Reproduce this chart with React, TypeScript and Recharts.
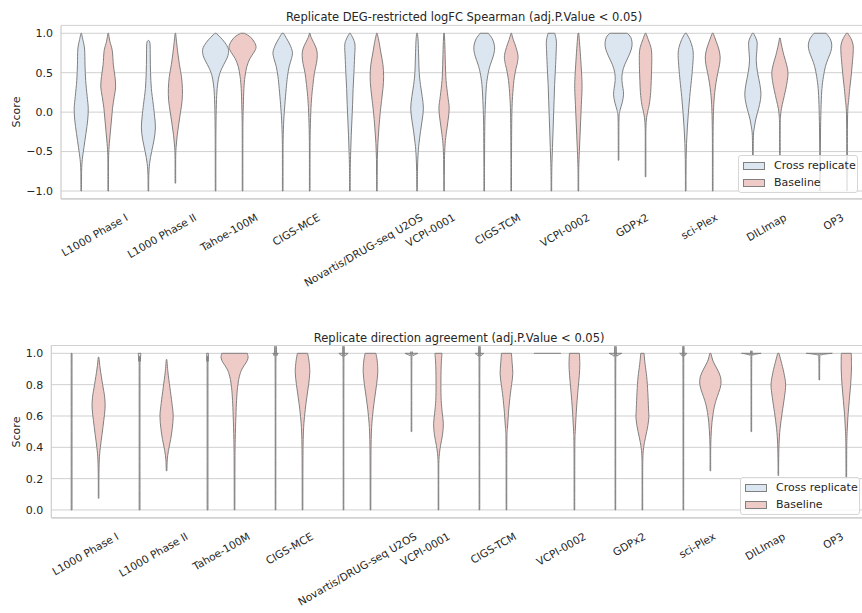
import React, { useLayoutEffect, useRef, useState } from 'react';
import { ComposedChart, Bar, XAxis, YAxis, CartesianGrid } from 'recharts';

type Profile = [number, number][];

const datasets = [
  'L1000 Phase I', 'L1000 Phase II', 'Tahoe-100M', 'CIGS-MCE', 'Novartis/DRUG-seq U2OS', 'VCPI-0001',
  'CIGS-TCM', 'VCPI-0002', 'GDPx2', 'sci-Plex', 'DILImap', 'OP3',
];

// [score, relative violin width] profiles
const spearmanCross: Profile[] = [
  [[1,0.02],[0.92,0.12],[0.8,0.25],[0.6,0.28],[0.4,0.33],[0.2,0.44],[0.05,0.52],[-0.1,0.48],[-0.27,0.35],[-0.45,0.2],[-0.6,0.08],[-0.75,0.03],[-1,0.01]],
  [[0.91,0.02],[0.87,0.12],[0.7,0.14],[0.5,0.16],[0.3,0.22],[0.1,0.36],[-0.05,0.46],[-0.2,0.52],[-0.35,0.42],[-0.5,0.24],[-0.65,0.09],[-0.8,0.03],[-1,0.01]],
  [[1,0.05],[0.95,0.35],[0.88,0.7],[0.8,0.95],[0.72,0.92],[0.65,0.75],[0.55,0.45],[0.45,0.25],[0.3,0.12],[0.1,0.06],[-0.2,0.03],[-0.5,0.02],[-1,0.01]],
  [[1,0.06],[0.93,0.3],[0.85,0.55],[0.76,0.72],[0.68,0.65],[0.58,0.48],[0.45,0.35],[0.3,0.26],[0.1,0.16],[-0.1,0.08],[-0.35,0.03],[-0.6,0.02],[-1,0.01]],
  [[1,0.03],[0.93,0.25],[0.85,0.38],[0.7,0.35],[0.5,0.3],[0.3,0.24],[0.1,0.2],[-0.1,0.15],[-0.3,0.1],[-0.5,0.06],[-0.7,0.03],[-0.85,0.02],[-1,0.01]],
  [[1,0.03],[0.9,0.08],[0.7,0.12],[0.5,0.16],[0.35,0.25],[0.2,0.38],[0.05,0.47],[-0.1,0.38],[-0.25,0.25],[-0.4,0.14],[-0.55,0.07],[-0.75,0.03],[-1,0.01]],
  [[1,0.3],[0.93,0.6],[0.85,0.75],[0.78,0.76],[0.7,0.65],[0.6,0.45],[0.5,0.3],[0.35,0.17],[0.15,0.1],[-0.1,0.05],[-0.4,0.03],[-0.7,0.02],[-1,0.01]],
  [[1,0.25],[0.9,0.37],[0.75,0.35],[0.55,0.3],[0.35,0.24],[0.15,0.2],[-0.05,0.16],[-0.25,0.12],[-0.45,0.08],[-0.65,0.04],[-0.85,0.02],[-1,0.01]],
  [[1,0.65],[0.95,0.9],[0.88,1.0],[0.8,0.95],[0.7,0.72],[0.6,0.45],[0.5,0.28],[0.4,0.25],[0.3,0.33],[0.22,0.37],[0.12,0.27],[0.03,0.12],[-0.05,0.04],[-0.3,0.02],[-0.61,0.01]],
  [[1,0.05],[0.92,0.3],[0.82,0.5],[0.72,0.56],[0.55,0.5],[0.4,0.42],[0.2,0.3],[0,0.2],[-0.2,0.12],[-0.4,0.06],[-0.6,0.03],[-0.8,0.02],[-1,0.01]],
  [[1,0.05],[0.9,0.3],[0.8,0.3],[0.65,0.25],[0.5,0.35],[0.35,0.52],[0.22,0.6],[0.1,0.5],[0,0.35],[-0.1,0.2],[-0.2,0.1],[-0.3,0.04],[-0.55,0.01]],
  [[1,0.45],[0.93,0.75],[0.85,0.87],[0.77,0.8],[0.68,0.6],[0.58,0.4],[0.45,0.25],[0.3,0.14],[0.1,0.08],[-0.2,0.04],[-0.5,0.02],[-0.8,0.02],[-1,0.01]],
];

const spearmanBase: Profile[] = [
  [[1,0.02],[0.9,0.12],[0.78,0.3],[0.6,0.38],[0.45,0.5],[0.32,0.55],[0.2,0.45],[0.05,0.32],[-0.1,0.24],[-0.25,0.16],[-0.4,0.08],[-0.55,0.03],[-0.75,0.02],[-1,0.01]],
  [[1,0.02],[0.9,0.08],[0.75,0.18],[0.6,0.3],[0.45,0.45],[0.3,0.52],[0.15,0.5],[0,0.38],[-0.15,0.25],[-0.3,0.13],[-0.45,0.05],[-0.6,0.02],[-0.9,0.01]],
  [[1,0.15],[0.95,0.6],[0.88,0.9],[0.82,1.0],[0.76,0.85],[0.68,0.55],[0.58,0.32],[0.45,0.18],[0.3,0.1],[0.1,0.06],[-0.1,0.03],[-0.4,0.02],[-1,0.01]],
  [[1,0.02],[0.95,0.1],[0.88,0.3],[0.8,0.5],[0.72,0.56],[0.62,0.5],[0.5,0.35],[0.35,0.24],[0.2,0.15],[0,0.08],[-0.3,0.03],[-0.6,0.02],[-1,0.01]],
  [[1,0.02],[0.9,0.15],[0.75,0.3],[0.6,0.45],[0.45,0.5],[0.3,0.45],[0.15,0.35],[0,0.25],[-0.2,0.15],[-0.4,0.07],[-0.6,0.03],[-0.8,0.02],[-1,0.01]],
  [[1,0.02],[0.85,0.06],[0.6,0.1],[0.4,0.15],[0.2,0.28],[0.05,0.38],[-0.1,0.3],[-0.25,0.18],[-0.4,0.08],[-0.6,0.03],[-0.8,0.02],[-1,0.01]],
  [[1,0.02],[0.92,0.15],[0.85,0.3],[0.72,0.5],[0.62,0.45],[0.55,0.35],[0.4,0.2],[0.2,0.1],[0,0.05],[-0.3,0.03],[-0.6,0.02],[-1,0.01]],
  [[1,0.03],[0.85,0.1],[0.65,0.18],[0.45,0.25],[0.3,0.27],[0.1,0.22],[-0.1,0.17],[-0.3,0.12],[-0.5,0.07],[-0.7,0.03],[-0.85,0.02],[-1,0.01]],
  [[1,0.03],[0.92,0.2],[0.82,0.4],[0.72,0.46],[0.55,0.45],[0.4,0.42],[0.25,0.38],[0.1,0.28],[0,0.15],[-0.1,0.06],[-0.25,0.02],[-0.5,0.02],[-0.82,0.01]],
  [[1,0.04],[0.9,0.25],[0.8,0.45],[0.7,0.55],[0.6,0.5],[0.5,0.38],[0.38,0.25],[0.25,0.15],[0.1,0.08],[-0.1,0.04],[-0.4,0.02],[-0.7,0.02],[-1,0.01]],
  [[0.94,0.02],[0.85,0.12],[0.72,0.3],[0.6,0.5],[0.5,0.6],[0.4,0.55],[0.28,0.42],[0.15,0.25],[0.05,0.12],[-0.05,0.05],[-0.2,0.02],[-0.55,0.01]],
  [[1,0.05],[0.93,0.3],[0.85,0.45],[0.75,0.45],[0.6,0.38],[0.45,0.3],[0.3,0.2],[0.15,0.12],[0.05,0.06],[-0.15,0.03],[-0.5,0.02],[-1,0.01]],
];

const directionCross: Profile[] = [
  [[1,0.03],[0,0.03]],
  [[1,0.1],[0.95,0.05],[0.9,0.03],[0,0.03]],
  [[1,0.07],[0.95,0.04],[0.9,0.03],[0,0.03]],
  [[1,0.2],[0.985,0.1],[0.97,0.03],[0,0.02]],
  [[1,0.34],[0.993,0.25],[0.982,0.08],[0.97,0.03],[0,0.02]],
  [[1,0.48],[0.993,0.3],[0.985,0.12],[0.972,0.03],[0.5,0.02]],
  [[1,0.33],[0.993,0.22],[0.982,0.08],[0.97,0.03],[0,0.02]],
  [[1,1.0],[1,1.0]],
  [[1,0.47],[0.993,0.3],[0.982,0.1],[0.97,0.03],[0,0.02]],
  [[1,0.27],[0.993,0.18],[0.982,0.06],[0.97,0.03],[0,0.02]],
  [[1,0.72],[0.996,0.4],[0.988,0.1],[0.978,0.03],[0.5,0.02]],
  [[1,0.96],[0.996,0.5],[0.99,0.15],[0.982,0.04],[0.83,0.02]],
];

const directionBase: Profile[] = [
  [[0.975,0.02],[0.9,0.12],[0.8,0.3],[0.72,0.45],[0.65,0.48],[0.57,0.38],[0.48,0.25],[0.4,0.13],[0.32,0.05],[0.2,0.02],[0.075,0.01]],
  [[0.96,0.02],[0.88,0.1],[0.78,0.25],[0.68,0.4],[0.6,0.49],[0.52,0.42],[0.45,0.3],[0.38,0.14],[0.32,0.05],[0.25,0.01]],
  [[1,0.95],[0.97,1.0],[0.94,0.85],[0.9,0.55],[0.85,0.35],[0.78,0.22],[0.7,0.15],[0.6,0.1],[0.45,0.05],[0.3,0.03],[0,0.02]],
  [[1,0.38],[0.95,0.48],[0.88,0.54],[0.8,0.45],[0.72,0.32],[0.64,0.2],[0.55,0.1],[0.45,0.05],[0.3,0.03],[0,0.02]],
  [[1,0.4],[0.95,0.5],[0.88,0.54],[0.8,0.45],[0.72,0.32],[0.64,0.2],[0.55,0.1],[0.45,0.05],[0.3,0.03],[0,0.02]],
  [[1,0.26],[0.92,0.2],[0.8,0.18],[0.7,0.2],[0.62,0.28],[0.55,0.36],[0.48,0.3],[0.41,0.15],[0.34,0.05],[0.25,0.02],[0,0.02]],
  [[1,0.37],[0.94,0.42],[0.87,0.47],[0.8,0.38],[0.72,0.26],[0.62,0.15],[0.52,0.07],[0.42,0.03],[0,0.02]],
  [[1,0.37],[0.93,0.4],[0.86,0.36],[0.78,0.28],[0.7,0.2],[0.6,0.12],[0.5,0.06],[0.4,0.03],[0,0.02]],
  [[1,0.12],[0.93,0.2],[0.85,0.32],[0.75,0.4],[0.65,0.45],[0.58,0.47],[0.5,0.32],[0.43,0.15],[0.36,0.05],[0.25,0.02],[0,0.02]],
  [[1,0.04],[0.95,0.2],[0.9,0.5],[0.85,0.75],[0.8,0.78],[0.75,0.62],[0.7,0.42],[0.64,0.25],[0.56,0.12],[0.47,0.05],[0.38,0.02],[0.25,0.01]],
  [[1,0.05],[0.95,0.2],[0.88,0.4],[0.8,0.54],[0.72,0.45],[0.62,0.28],[0.52,0.13],[0.42,0.05],[0.3,0.02],[0.22,0.01]],
  [[1,0.37],[0.9,0.38],[0.8,0.32],[0.7,0.22],[0.6,0.12],[0.5,0.06],[0.4,0.03],[0.2,0.02]],
];

const spearmanTicks = [-1, -0.5, 0, 0.5, 1];
const directionTicks = [0, 0.2, 0.4, 0.6, 0.8, 1];
const seriesNames = ['Cross replicate', 'Baseline'];

const CROSS_FILL = '#dce6f1';
const BASE_FILL = '#efcbc8';
const EDGE = '#808080';
const GRID = '#d0d0d0';
const TEXT = '#262626';
const FONT = '"DejaVu Sans", Verdana, sans-serif';
const XFONT = 10.6;
const ROT = 30;

function buildRows(cross: Profile[], base: Profile[]) {
  return datasets.map((name, i) => {
    const cv = cross[i].map((p) => p[0]);
    const bv = base[i].map((p) => p[0]);
    return {
      name,
      cross: [Math.min(...cv), Math.max(...cv)],
      base: [Math.min(...bv), Math.max(...bv)],
      crossProfile: cross[i],
      baseProfile: base[i],
    };
  });
}

function smoothSide(pts: number[][]): string {
  let d = '';
  for (let i = 0; i < pts.length - 1; i++) {
    const p0 = pts[Math.max(0, i - 1)];
    const p1 = pts[i];
    const p2 = pts[i + 1];
    const p3 = pts[Math.min(pts.length - 1, i + 2)];
    const c1x = p1[0] + (p2[0] - p0[0]) / 6;
    const c1y = p1[1] + (p2[1] - p0[1]) / 6;
    const c2x = p2[0] - (p3[0] - p1[0]) / 6;
    const c2y = p2[1] - (p3[1] - p1[1]) / 6;
    d += ` C${c1x},${c1y} ${c2x},${c2y} ${p2[0]},${p2[1]}`;
  }
  return d;
}

function makeViolin(key: 'crossProfile' | 'baseProfile', fill: string) {
  return (props: any) => {
    const { x, y, width, height, payload } = props;
    if (!payload) return null;
    const prof: Profile = payload[key];
    const vals = prof.map((p) => p[0]);
    const hi = Math.max(...vals);
    const lo = Math.min(...vals);
    const top = Math.min(y, y + height);
    const bot = Math.max(y, y + height);
    const cx = x + width / 2;
    if (hi === lo) {
      const f = prof[0][1];
      return <line x1={cx - (f * width) / 2} x2={cx + (f * width) / 2} y1={top} y2={top} stroke={EDGE} strokeWidth={1} />;
    }
    const py = (v: number) => top + ((hi - v) / (hi - lo)) * (bot - top);
    const sorted = [...prof].sort((a, b) => b[0] - a[0]);
    const right = sorted.map(([v, f]) => [cx + Math.max((f * width) / 2, 0.3), py(v)]);
    const left = [...sorted].reverse().map(([v, f]) => [cx - Math.max((f * width) / 2, 0.3), py(v)]);
    const d = `M${right[0][0]},${right[0][1]}` + smoothSide(right) + ` L${left[0][0]},${left[0][1]}` + smoothSide(left) + ' Z';
    return <path d={d} fill={fill} stroke={EDGE} strokeWidth={1} strokeLinejoin="round" />;
  };
}

const XTick = (props: any) => {
  const { x, y, payload } = props;
  const ref = useRef<SVGTextElement>(null);
  const [len, setLen] = useState(0);
  useLayoutEffect(() => {
    if (ref.current) {
      const l = ref.current.getComputedTextLength();
      if (Math.abs(l - len) > 0.5) setLen(l);
    }
  });
  const a = (ROT * Math.PI) / 180;
  const h = XFONT * 1.16;
  const H = len * Math.sin(a) + h * Math.cos(a);
  const cy = y + H / 2;
  return (
    <text
      ref={ref}
      x={x}
      y={cy}
      transform={`rotate(-${ROT}, ${x}, ${cy})`}
      textAnchor="middle"
      dominantBaseline="central"
      fontSize={XFONT}
      fontFamily={FONT}
      fill={TEXT}
    >
      {payload.value}
    </text>
  );
};

const fmt = (v: number) => v.toFixed(1).replace('-', '\u2212');

type PanelProps = {
  top: number;
  height: number;
  plotTop: number;
  plotBottom: number;
  yWidth: number;
  title: string;
  titleY: number;
  rows: any[];
  domain: [number, number];
  ticks: number[];
  legendTop: number;
  legendLeft: number;
};

function Panel(p: PanelProps) {
  const chartW = 870;
  const right = 3;
  const plotLeft = p.yWidth;
  const plotRight = chartW - right;
  const xHeight = p.top + p.height - p.plotBottom;
  return (
    <>
      <div
        style={{
          position: 'absolute', left: plotLeft, width: plotRight - plotLeft, top: p.titleY - 7,
          textAlign: 'center', fontSize: 11.5, lineHeight: '14px', color: TEXT, fontFamily: FONT,
        }}
      >
        {p.title}
      </div>
      <div
        style={{
          position: 'absolute', left: 16.7 - 30, width: 60, top: (p.plotTop + p.plotBottom) / 2 - 7,
          textAlign: 'center', fontSize: 11, lineHeight: '14px', color: TEXT, fontFamily: FONT,
          transform: 'rotate(-90deg)',
        }}
      >
        Score
      </div>
      <div style={{ position: 'absolute', left: 0, top: p.top }}>
        <ComposedChart
          width={chartW}
          height={p.height}
          data={p.rows}
          margin={{ top: p.plotTop - p.top, right, bottom: 0, left: 0 }}
          barCategoryGap="10%"
          barGap={0}
          style={{ fontFamily: FONT }}
        >
          <CartesianGrid vertical={false} stroke={GRID} strokeWidth={1} />
          <XAxis
            dataKey="name"
            type="category"
            height={xHeight}
            tickLine={false}
            tickSize={0}
            tickMargin={12}
            interval={0}
            axisLine={{ stroke: '#cccccc', strokeWidth: 1.2 }}
            tick={<XTick />}
          />
          <YAxis
            type="number"
            width={p.yWidth}
            domain={p.domain}
            ticks={p.ticks}
            interval={0}
            allowDataOverflow
            tickLine={false}
            tickSize={0}
            tickMargin={8}
            tickFormatter={fmt}
            axisLine={{ stroke: '#cccccc', strokeWidth: 1.2 }}
            tick={{ fontSize: 11, fill: TEXT, fontFamily: FONT }}
          />
          <Bar dataKey="cross" name={seriesNames[0]} isAnimationActive={false} shape={makeViolin('crossProfile', CROSS_FILL)} />
          <Bar dataKey="base" name={seriesNames[1]} isAnimationActive={false} shape={makeViolin('baseProfile', BASE_FILL)} />
        </ComposedChart>
      </div>
      <div
        style={{
          position: 'absolute', left: p.legendLeft, top: p.legendTop, width: 120, height: 38,
          background: 'rgba(255,255,255,0.8)', border: '1px solid #d6d6d6', borderRadius: 3,
          boxSizing: 'border-box', fontFamily: FONT, fontSize: 11, color: TEXT,
        }}
      >
        {seriesNames.map((n, i) => (
          <div key={n} style={{ position: 'absolute', left: 4, top: 3 + i * 16.7, height: 14, display: 'flex', alignItems: 'center' }}>
            <div
              style={{
                width: 22, height: 8, boxSizing: 'border-box', border: `1px solid ${EDGE}`,
                background: i === 0 ? CROSS_FILL : BASE_FILL, marginRight: 9,
              }}
            />
            <span style={{ lineHeight: '14px', whiteSpace: 'nowrap' }}>{n}</span>
          </div>
        ))}
      </div>
    </>
  );
}

export default function App() {
  const spearRows = buildRows(spearmanCross, spearmanBase);
  const dirRows = buildRows(directionCross, directionBase);
  return (
    <div style={{ position: 'absolute', left: 0, top: 0, width: 862, height: 613, overflow: 'hidden', background: '#ffffff' }}>
      <Panel
        top={0}
        height={300}
        plotTop={25.4}
        plotBottom={198.9}
        yWidth={61}
        title="Replicate DEG-restricted logFC Spearman (adj.P.Value < 0.05)"
        titleY={16.7}
        rows={spearRows}
        domain={[-1.1, 1.1]}
        ticks={spearmanTicks}
        legendLeft={738}
        legendTop={155}
      />
      <Panel
        top={321}
        height={292}
        plotTop={345.5}
        plotBottom={517.8}
        yWidth={51.3}
        title="Replicate direction agreement (adj.P.Value < 0.05)"
        titleY={337.7}
        rows={dirRows}
        domain={[-0.05, 1.05]}
        ticks={directionTicks}
        legendLeft={740}
        legendTop={477}
      />
    </div>
  );
}
